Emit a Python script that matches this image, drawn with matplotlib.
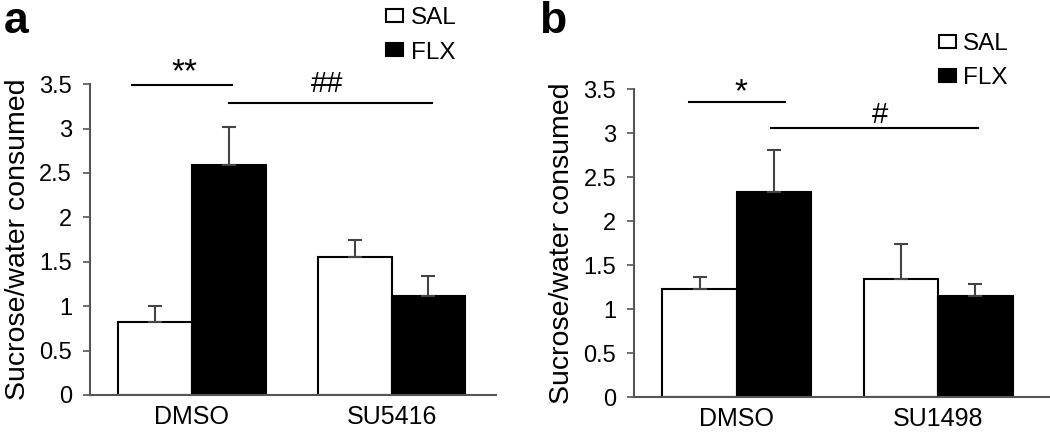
import matplotlib.pyplot as plt
import numpy as np

plt.rcParams['font.family'] = ['Liberation Sans', 'DejaVu Sans']

# Data
groups = ["SAL", "FLX"]
a_categories = ["DMSO", "SU5416"]
a_sal = [0.82, 1.55]
a_sal_err = [0.18, 0.19]
a_flx = [2.59, 1.11]
a_flx_err = [0.43, 0.23]

b_categories = ["DMSO", "SU1498"]
b_sal = [1.23, 1.34]
b_sal_err = [0.14, 0.40]
b_flx = [2.33, 1.15]
b_flx_err = [0.48, 0.14]

ylabel = "Sucrose/water consumed"
yticks = [0, 0.5, 1, 1.5, 2, 2.5, 3, 3.5]
ytick_labels = ["0", "0.5", "1", "1.5", "2", "2.5", "3", "3.5"]

fig = plt.figure(figsize=(10.5, 4.33), dpi=100)
ax_a = fig.add_axes([0.0857, 0.0878, 0.387, 0.718])
ax_b = fig.add_axes([0.604, 0.0824, 0.395, 0.712])

width = 0.37
axis_grey = '#555555'


def draw_panel(ax, cats, sal, sal_err, flx, flx_err, xlim):
    x = np.arange(len(cats))
    err_kw = dict(ecolor='#444444', elinewidth=1.5, capsize=5, capthick=1.5)
    b1 = ax.bar(x - width / 2, sal, width, color='white', edgecolor='black', linewidth=1.5,
                yerr=[np.zeros(len(sal)), sal_err], error_kw=err_kw, zorder=2)
    b2 = ax.bar(x + width / 2, flx, width, color='black', edgecolor='black', linewidth=1.5,
                yerr=[np.zeros(len(flx)), flx_err], error_kw=err_kw, zorder=2)
    ax.set_xlim(*xlim)
    ax.set_ylim(0, 3.5)
    ax.set_yticks(yticks)
    ax.set_yticklabels(ytick_labels)
    ax.set_xticks(x)
    ax.set_xticklabels(cats)
    ax.tick_params(axis='y', direction='out', length=5, width=1.2, color=axis_grey,
                   labelsize=17, pad=8)
    ax.tick_params(axis='x', length=0, labelsize=18, pad=7)
    for s in ['top', 'right']:
        ax.spines[s].set_visible(False)
    for s in ['left', 'bottom']:
        ax.spines[s].set_color(axis_grey)
        ax.spines[s].set_linewidth(1.5)
    ax.set_ylabel(ylabel, fontsize=20.5, labelpad=6)
    return b1, b2


bars_a = draw_panel(ax_a, a_categories, a_sal, a_sal_err, a_flx, a_flx_err, (-0.51, 1.525))
bars_b = draw_panel(ax_b, b_categories, b_sal, b_sal_err, b_flx, b_flx_err, (-0.51, 1.55))

# significance marks, panel a
ax_a.plot([-0.3, 0.2], [3.49, 3.49], color='black', lw=1.5, clip_on=False)
ax_a.text(-0.035, 3.53, "**", ha='center', va='baseline', fontsize=24)
ax_a.plot([0.185, 1.205], [3.29, 3.29], color='black', lw=1.5, clip_on=False)
ax_a.text(0.68, 3.41, "##", ha='center', va='baseline', fontsize=21)

# significance marks, panel b
ax_b.plot([-0.24, 0.24], [3.35, 3.35], color='black', lw=1.5, clip_on=False)
ax_b.text(0.02, 3.36, "*", ha='center', va='baseline', fontsize=24)
ax_b.plot([0.17, 1.2], [3.06, 3.06], color='black', lw=1.5, clip_on=False)
ax_b.text(0.71, 3.11, "#", ha='center', va='baseline', fontsize=21)

# legends
leg_kw = dict(frameon=False, fontsize=17.5, handlelength=0.7, handleheight=0.45,
              handletextpad=0.3, labelspacing=0.5, borderaxespad=0, borderpad=0)
ax_a.legend(bars_a, groups, loc='upper left', bbox_to_anchor=(0.368, 0.983),
            bbox_transform=fig.transFigure, **leg_kw)
ax_b.legend(bars_b, groups, loc='upper left', bbox_to_anchor=(0.894, 0.923),
            bbox_transform=fig.transFigure, **leg_kw)

# panel letters
fig.text(0.004, 0.998, "a", fontsize=32, fontweight='bold', va='top', ha='left')
fig.text(0.513, 0.998, "b", fontsize=32, fontweight='bold', va='top', ha='left')

fig.savefig("out.png", dpi=100)
